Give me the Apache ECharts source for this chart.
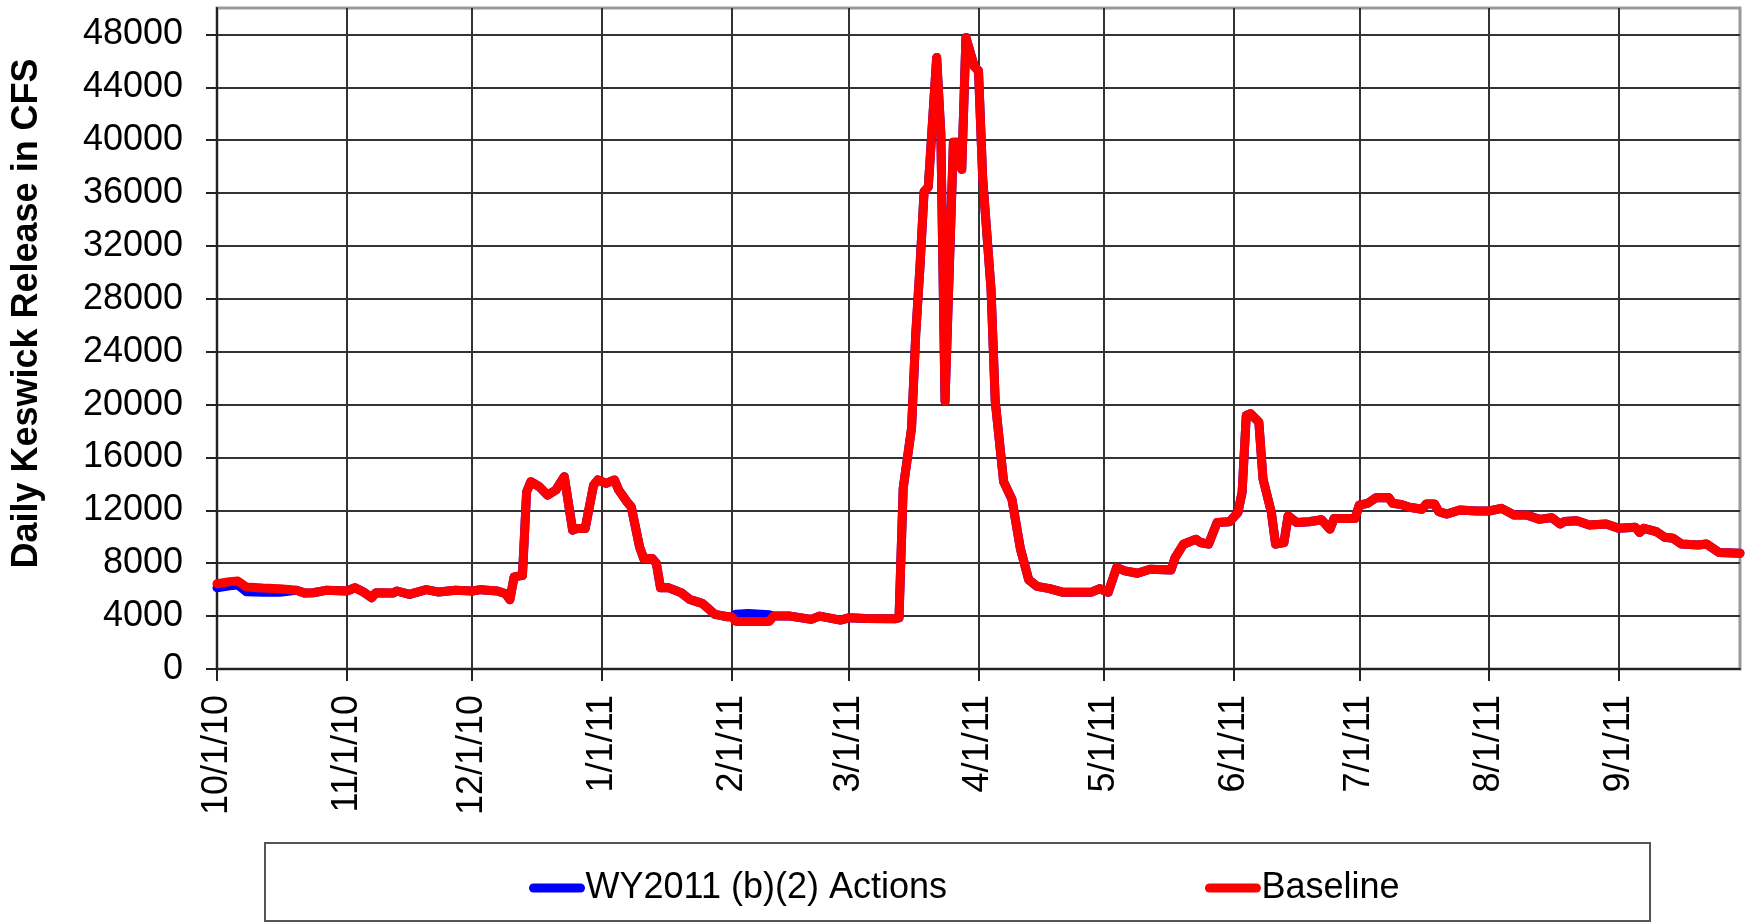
<!DOCTYPE html>
<html>
<head>
<meta charset="utf-8">
<script src="https://cdn.jsdelivr.net/npm/echarts@6/dist/echarts.min.js"></script>
<style>html,body{margin:0;padding:0;background:#fff}#c{width:1749px;height:922px}</style>
</head>
<body>
<div id="c"></div>
<script>
// ---- data ----
const monthTicks = ['2010-10-01','2010-11-01','2010-12-01','2011-01-01','2011-02-01','2011-03-01',
  '2011-04-01','2011-05-01','2011-06-01','2011-07-01','2011-08-01','2011-09-01'];
const yTickValues = [0,4000,8000,12000,16000,20000,24000,28000,32000,36000,40000,44000,48000];

const baseline = [
 ['2010-10-01',6450],['2010-10-04',6600],['2010-10-06',6650],['2010-10-08',6200],['2010-10-12',6120],
 ['2010-10-16',6070],['2010-10-20',5950],['2010-10-22',5740],['2010-10-24',5770],['2010-10-27',5950],
 ['2010-11-01',5900],['2010-11-03',6150],['2010-11-05',5820],['2010-11-07',5390],['2010-11-08',5770],
 ['2010-11-12',5740],['2010-11-13',5900],['2010-11-16',5640],['2010-11-20',6000],['2010-11-23',5820],
 ['2010-11-27',5950],['2010-12-01',5900],['2010-12-03',6000],['2010-12-07',5900],['2010-12-09',5690],
 ['2010-12-10',5240],['2010-12-11',6960],['2010-12-13',7080],['2010-12-14',13400],['2010-12-15',14170],
 ['2010-12-17',13790],['2010-12-19',13150],['2010-12-21',13540],['2010-12-23',14550],['2010-12-25',10500],
 ['2010-12-26',10630],['2010-12-28',10630],['2010-12-30',13900],['2010-12-31',14300],['2011-01-02',14040],
 ['2011-01-04',14300],['2011-01-05',13540],['2011-01-07',12650],['2011-01-08',12270],['2011-01-10',9230],
 ['2011-01-11',8350],['2011-01-13',8350],['2011-01-14',8000],['2011-01-15',6140],['2011-01-17',6140],
 ['2011-01-20',5760],['2011-01-22',5260],['2011-01-24',5060],['2011-01-25',4960],['2011-01-28',4130],
 ['2011-01-31',3950],['2011-02-01',3950],['2011-02-02',3600],['2011-02-10',3600],['2011-02-11',4000],
 ['2011-02-15',4000],['2011-02-20',3750],['2011-02-22',4000],['2011-02-27',3700],['2011-03-01',3870],
 ['2011-03-05',3820],['2011-03-12',3800],['2011-03-13',3870],['2011-03-14',13670],['2011-03-16',18230],
 ['2011-03-17',25320],['2011-03-18',30380],['2011-03-19',36120],['2011-03-20',36460],['2011-03-22',46250],
 ['2011-03-23',40500],['2011-03-24',20250],['2011-03-26',39840],['2011-03-27',39840],['2011-03-28',37800],
 ['2011-03-29',47770],['2011-03-31',45580],['2011-04-01',45240],['2011-04-02',37140],['2011-04-04',28700],
 ['2011-04-05',20250],['2011-04-07',14180],['2011-04-09',12830],['2011-04-11',9115],['2011-04-13',6750],
 ['2011-04-15',6250],['2011-04-18',6080],['2011-04-21',5810],['2011-04-28',5810],['2011-04-30',6080],
 ['2011-05-02',5800],['2011-05-04',7670],['2011-05-06',7420],['2011-05-09',7240],['2011-05-12',7540],
 ['2011-05-17',7490],['2011-05-18',8430],['2011-05-20',9440],['2011-05-23',9820],['2011-05-24',9570],
 ['2011-05-26',9440],['2011-05-28',11080],['2011-05-31',11140],['2011-06-02',11840],['2011-06-03',13360],
 ['2011-06-04',19180],['2011-06-05',19310],['2011-06-07',18670],['2011-06-08',14370],['2011-06-10',11840],
 ['2011-06-11',9440],['2011-06-13',9570],['2011-06-14',11590],['2011-06-16',11080],['2011-06-19',11140],
 ['2011-06-22',11290],['2011-06-24',10580],['2011-06-25',11390],['2011-06-29',11390],['2011-06-30',11400],
 ['2011-07-01',12400],['2011-07-03',12530],['2011-07-05',12960],['2011-07-08',12980],['2011-07-09',12530],
 ['2011-07-11',12450],['2011-07-13',12230],['2011-07-16',12080],['2011-07-17',12480],['2011-07-19',12480],
 ['2011-07-20',11900],['2011-07-22',11720],['2011-07-25',12030],['2011-07-29',11950],['2011-08-01',11950],
 ['2011-08-04',12150],['2011-08-07',11650],['2011-08-10',11650],['2011-08-13',11320],['2011-08-16',11450],
 ['2011-08-18',10970],['2011-08-19',11150],['2011-08-22',11220],['2011-08-25',10890],['2011-08-29',10970],
 ['2011-09-01',10640],['2011-09-05',10720],['2011-09-06',10320],['2011-09-07',10640],['2011-09-10',10390],
 ['2011-09-12',9960],['2011-09-14',9890],['2011-09-16',9460],['2011-09-20',9380],['2011-09-22',9460],
 ['2011-09-25',8810],['2011-09-30',8760]
];
// (b)(2) Actions: same as baseline except in these periods
const actionsOct = [['2010-10-01',6150],['2010-10-04',6300],['2010-10-06',6350],['2010-10-08',5850],
 ['2010-10-12',5800],['2010-10-16',5800]];
const actionsFeb = [['2011-02-02',4150],['2011-02-05',4200],['2011-02-10',4100]];

// ---- helpers ----
function ts(s){const p=s.split('-').map(Number);return new Date(p[0],p[1]-1,p[2]).getTime();}
function inRange(s,a,b){const t=ts(s);return t>=ts(a)&&t<=ts(b);}
const baselineData = baseline.map(d=>[ts(d[0]),d[1]]);
const actionsData = baseline
  .filter(d=>!inRange(d[0],'2010-10-01','2010-10-16') && !inRange(d[0],'2011-02-02','2011-02-10'))
  .concat(actionsOct, actionsFeb)
  .map(d=>[ts(d[0]),d[1]])
  .sort((a,b)=>a[0]-b[0]);
const tickTs = monthTicks.map(ts);
function fmtDate(v){const d=new Date(v);return (d.getMonth()+1)+'/'+d.getDate()+'/'+String(d.getFullYear()).slice(2);}

const FONT = 'Liberation Sans, Arial, sans-serif';
const axisLineStyle = {color:'#222', width:2};
const gridLineStyle = {color:'#333', width:2};
const LW = 9;

const chart = echarts.init(document.getElementById('c'), null, {renderer:'canvas'});
chart.setOption({
  animation:false,
  backgroundColor:'#fff',
  grid:{left:217, right:9, top:8, bottom:253, show:true, borderColor:'#999', borderWidth:3, backgroundColor:'#fff'},
  xAxis:{
    type:'value', min:ts('2010-10-01'), max:ts('2011-09-30'), scale:true,
    axisLine:{show:true, onZero:false, lineStyle:axisLineStyle},
    axisTick:{show:true, customValues:tickTs, length:12, lineStyle:axisLineStyle},
    axisLabel:{customValues:tickTs, rotate:90, margin:26, fontSize:36, fontFamily:FONT, color:'#000', formatter:fmtDate},
    splitLine:{show:true, lineStyle:gridLineStyle},
    minorTick:{show:false}
  },
  yAxis:{
    type:'value', min:0, max:50000,
    axisLine:{show:true, lineStyle:axisLineStyle},
    axisTick:{show:true, customValues:yTickValues, length:11, lineStyle:axisLineStyle},
    axisLabel:{customValues:yTickValues, margin:34, fontSize:36, fontFamily:FONT, color:'#000', formatter:v=>String(v)},
    splitLine:{show:true, lineStyle:gridLineStyle},
    name:'Daily Keswick Release in CFS', nameLocation:'middle', nameGap:172, nameRotate:90,
    nameTextStyle:{fontSize:36, fontWeight:'bold', fontFamily:FONT, color:'#000', padding:[0,0,0,50]}
  },
  legend:{
    data:['WY2011 (b)(2) Actions','Baseline'],
    left:524, top:865, itemWidth:47, itemHeight:14, itemGap:258, selectedMode:false,
    textStyle:{fontSize:36, fontFamily:FONT, color:'#000'},
    itemStyle:{opacity:0},
    lineStyle:{width:LW, cap:'round'}
  },
  graphic:[{type:'rect', shape:{x:265, y:843, width:1385, height:78}, style:{fill:null, stroke:'#555', lineWidth:2}, z:-1, silent:true}],
  series:[
    {name:'WY2011 (b)(2) Actions', type:'line', data:actionsData, symbol:'none', showSymbol:false, z:2,
     lineStyle:{color:'#0000FF', width:LW, cap:'round', join:'round'}, itemStyle:{color:'#0000FF'}},
    {name:'Baseline', type:'line', data:baselineData, symbol:'none', showSymbol:false, z:3,
     lineStyle:{color:'#FF0000', width:LW, cap:'round', join:'round'}, itemStyle:{color:'#FF0000'}}
  ]
});
</script>
</body>
</html>
